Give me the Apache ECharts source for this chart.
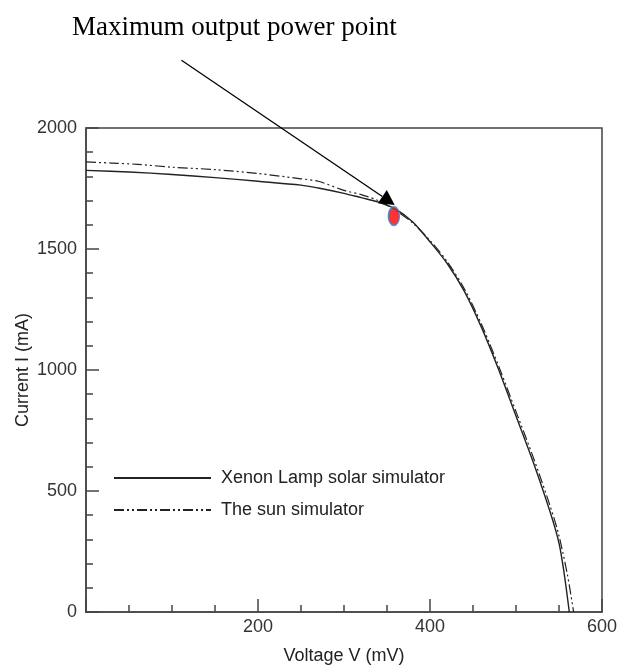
<!DOCTYPE html>
<html>
<head>
<meta charset="utf-8">
<script src="https://cdn.jsdelivr.net/npm/echarts@6/dist/echarts.min.js"></script>
<style>
html,body{margin:0;padding:0;background:#fff;}
#chart{width:620px;height:670px;}
</style>
</head>
<body>
<div id="chart"></div>
<script>
// ---- data ----
const xenonVoltage = [0, 50, 100, 150, 200, 250, 270, 300, 320, 340, 360, 380, 400, 420, 440, 460, 480, 500, 520, 540, 550, 556, 562];
const xenonCurrent = [1825, 1818, 1808, 1795, 1780, 1764, 1752, 1730, 1712, 1694, 1665, 1612, 1530, 1440, 1325, 1175, 1000, 810, 620, 410, 285, 160, 0];
const sunVoltage = [0, 30, 60, 100, 150, 200, 250, 270, 300, 320, 340, 360, 380, 400, 420, 440, 460, 480, 500, 520, 540, 550, 560, 567];
const sunCurrent = [1860, 1855, 1850, 1838, 1828, 1812, 1790, 1780, 1742, 1725, 1700, 1660, 1607, 1535, 1448, 1335, 1188, 1015, 828, 640, 435, 315, 150, 0];
const mppPoint = [358, 1636];
const arrowTail = [111, 2280];
const arrowTip = [359, 1682];
const seriesNames = ['Xenon Lamp solar simulator', 'The sun simulator'];
const xTicks = [0, 200, 400, 600];
const yTicks = [0, 500, 1000, 1500, 2000];

const zip = (a, b) => a.map((v, i) => [v, b[i]]);
const axisColor = '#444';
const labelFont = 'Liberation Sans, Arial, sans-serif';

const chart = echarts.init(document.getElementById('chart'), null, {renderer: 'canvas'});
chart.setOption({
  animation: false,
  backgroundColor: '#fff',
  title: {
    text: 'Maximum output power point',
    left: 67, top: 9,
    textStyle: {fontFamily: 'Liberation Serif, Times New Roman, serif', fontSize: 27, fontWeight: 'normal', color: '#000'}
  },
  grid: {left: 86, right: 14, top: 128, bottom: 58, show: true, borderColor: axisColor, borderWidth: 1.5, backgroundColor: 'transparent'},
  legend: {
    data: seriesNames,
    orient: 'vertical',
    left: 108, top: 464,
    itemWidth: 97, itemHeight: 14, itemGap: 14,
    itemStyle: {opacity: 0},
    textStyle: {fontFamily: labelFont, fontSize: 18, color: '#222', padding: [0, 0, 0, 5]}
  },
  xAxis: {
    type: 'value', min: xTicks[0], max: xTicks[xTicks.length - 1], interval: 200,
    name: 'Voltage V (mV)', nameLocation: 'middle', nameGap: 35,
    nameTextStyle: {fontFamily: labelFont, fontSize: 18, color: '#222'},
    axisLine: {lineStyle: {color: axisColor, width: 1.5}},
    axisTick: {inside: true, length: 13, lineStyle: {color: axisColor, width: 1.5}},
    minorTick: {show: true, splitNumber: 4, length: 7, lineStyle: {color: axisColor, width: 1.5}},
    splitLine: {show: false},
    axisLabel: {fontFamily: labelFont, fontSize: 18, color: '#333', margin: 6,
      formatter: v => (v === 0 ? '' : String(v))}
  },
  yAxis: {
    type: 'value', min: yTicks[0], max: yTicks[yTicks.length - 1], interval: 500,
    name: 'Current I (mA)', nameLocation: 'middle', nameGap: 54, nameMoveOverlap: false,
    nameTextStyle: {fontFamily: labelFont, fontSize: 18, color: '#222'},
    axisLine: {lineStyle: {color: axisColor, width: 1.5}},
    axisTick: {inside: true, length: 13, lineStyle: {color: axisColor, width: 1.5}},
    minorTick: {show: true, splitNumber: 5, length: 7, lineStyle: {color: axisColor, width: 1.5}},
    splitLine: {show: false},
    axisLabel: {fontFamily: labelFont, fontSize: 18, color: '#333', margin: 9,
      formatter: v => String(v)}
  },
  series: [
    {
      name: seriesNames[0], type: 'line', data: zip(xenonVoltage, xenonCurrent),
      symbol: 'none', smooth: 0.3, color: '#222',
      lineStyle: {color: '#222', width: 1.4, type: 'solid'}
    },
    {
      name: seriesNames[1], type: 'line', data: zip(sunVoltage, sunCurrent),
      symbol: 'none', smooth: 0.3, color: '#222',
      lineStyle: {color: '#222', width: 1.2, type: [10, 3, 2, 3, 2, 3]}
    },
    {
      name: 'MPP', type: 'scatter', data: [mppPoint], z: 5,
      symbol: 'path://M10,0A10,10,0,1,1,10,20A10,10,0,1,1,10,0Z',
      symbolSize: [11, 18],
      itemStyle: {color: '#ff0000', borderColor: '#4a7bb5', borderWidth: 2}
    }
  ]
});

// annotation arrow from data coordinates
const t = chart.convertToPixel({gridIndex: 0}, arrowTail);
const h = chart.convertToPixel({gridIndex: 0}, arrowTip);
const dx = h[0] - t[0], dy = h[1] - t[1];
const len = Math.sqrt(dx * dx + dy * dy);
const ux = dx / len, uy = dy / len, nx = -uy, ny = ux;
const headL = 15, headW = 8;
const bx = h[0] - headL * ux, by = h[1] - headL * uy;
chart.setOption({
  graphic: [
    {type: 'line', shape: {x1: t[0], y1: t[1], x2: bx, y2: by}, style: {stroke: '#000', lineWidth: 1.3}, z: 10},
    {type: 'polygon', shape: {points: [[h[0], h[1]], [bx + headW * nx, by + headW * ny], [bx - headW * nx, by - headW * ny]]}, style: {fill: '#000'}, z: 10}
  ]
});
</script>
</body>
</html>
